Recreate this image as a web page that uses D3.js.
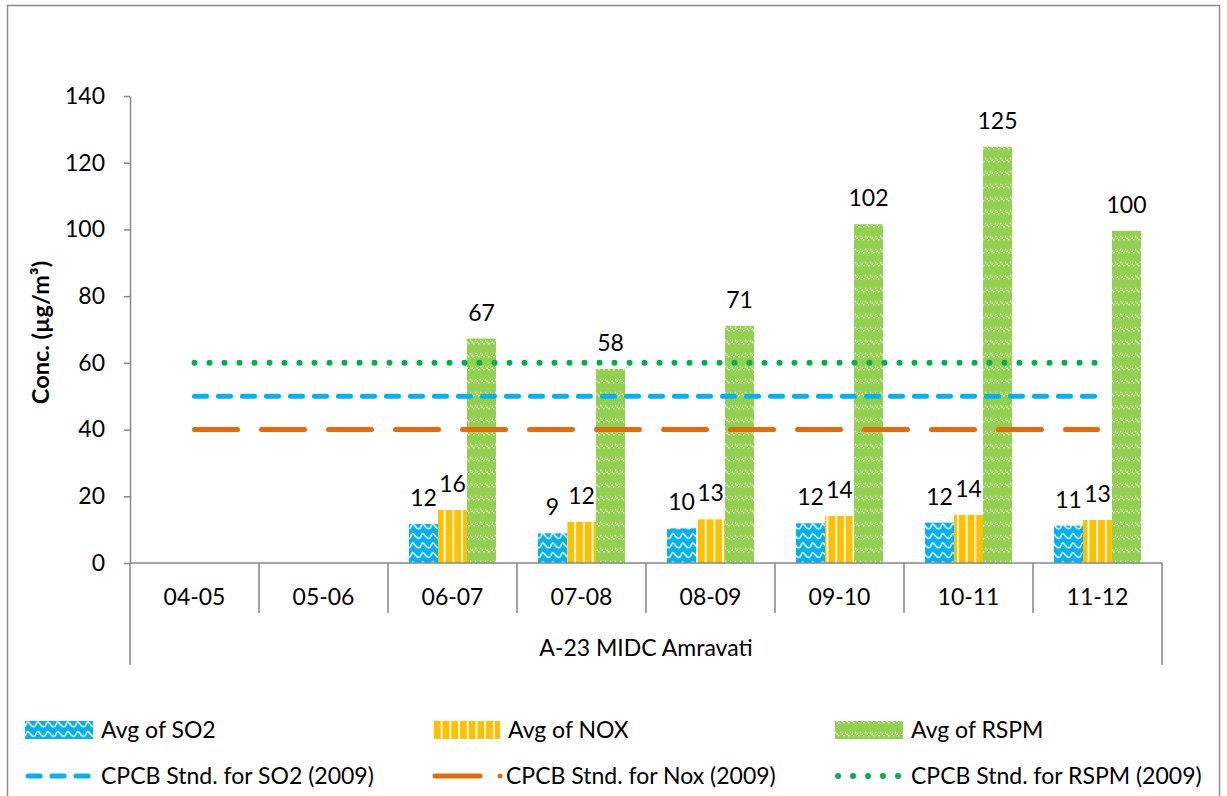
<!doctype html>
<html>
<head>
<style>
  body { margin: 0; background: #fff; }
  svg text { font-family: Lato, "Open Sans", sans-serif; fill: #000; }
</style>
<script src="https://cdn.jsdelivr.net/npm/d3@7"></script>
</head>
<body>
<svg width="1227" height="796"></svg>
<script>
var categories = ["04-05", "05-06", "06-07", "07-08", "08-09", "09-10", "10-11", "11-12"];
var groupLabel = "A-23 MIDC Amravati";
var so2  = [null, null, 11.7, 8.9, 10.4, 11.9, 12.1, 11.2];
var nox  = [null, null, 15.9, 12.3, 13.1, 14.1, 14.4, 12.9];
var rspm = [null, null, 67.3, 58.2, 71.1, 101.6, 124.8, 99.6];
var stdSO2 = [50, 50, 50, 50, 50, 50, 50, 50];
var stdNOX = [40, 40, 40, 40, 40, 40, 40, 40];
var stdRSPM = [60, 60, 60, 60, 60, 60, 60, 60];
var yTicks = [0, 20, 40, 60, 80, 100, 120, 140];

var barSeries = [
  { key: "so2", name: "Avg of SO2", values: so2, fill: "url(#pSO2)" },
  { key: "nox", name: "Avg of NOX", values: nox, fill: "url(#pNOX)" },
  { key: "rspm", name: "Avg of RSPM", values: rspm, fill: "url(#pRSPM)" }
];
var lineSeries = [
  { name: "CPCB Stnd. for SO2 (2009)", values: stdSO2, color: "#00B0F0", dash: "12 12", width: 5 },
  { name: "CPCB Stnd. for Nox (2009)", values: stdNOX, color: "#E36C0A", dash: "43 24", width: 5 },
  { name: "CPCB Stnd. for RSPM (2009)", values: stdRSPM, color: "#00B050", dash: "0 15", width: 6 }
];

var svg = d3.select("svg");
var plotLeft = 130, plotRight = 1162, plotTop = 96, plotBottom = 563;

// patterns
var defs = svg.append("defs");
var p1 = defs.append("pattern").attr("id", "pSO2").attr("patternUnits", "userSpaceOnUse")
  .attr("width", 10).attr("height", 9.5);
p1.append("rect").attr("width", 10).attr("height", 9.5).attr("fill", "#00B0F0");
p1.append("path").attr("d", "M0,6 C2.5,0.5 2.5,0.5 5,3.5 C7.5,6.5 7.5,6.5 10,6")
  .attr("fill", "none").attr("stroke", "#fff").attr("stroke-width", 1.5);

var p2 = defs.append("pattern").attr("id", "pNOX").attr("patternUnits", "userSpaceOnUse")
  .attr("width", 8.7).attr("height", 10);
p2.append("rect").attr("width", 8.7).attr("height", 10).attr("fill", "#FFC000");
p2.append("rect").attr("x", 0).attr("width", 1.8).attr("height", 10).attr("fill", "#fff");

var p3 = defs.append("pattern").attr("id", "pRSPM").attr("patternUnits", "userSpaceOnUse")
  .attr("width", 5).attr("height", 13);
p3.append("rect").attr("width", 5).attr("height", 13).attr("fill", "#92D050");
p3.append("path").attr("d", "M0,2 L5,7")
  .attr("stroke", "#fff").attr("stroke-width", 1.3).attr("stroke-dasharray", "1.3 1.1");

// outer border
svg.append("rect").attr("x", 7.5).attr("y", 5.5).attr("width", 1212).attr("height", 820)
  .attr("fill", "none").attr("stroke", "#8c8c8c").attr("stroke-width", 1.5);

var x0 = d3.scaleBand().domain(categories).range([plotLeft, plotRight]).paddingInner(0).paddingOuter(0);
var x1 = d3.scaleBand().domain(barSeries.map(function (s) { return s.key; }))
  .range([0, x0.bandwidth()]).paddingInner(0).paddingOuter(0.724);
var y = d3.scaleLinear().domain([0, 140]).range([plotBottom, plotTop]);

// bars
barSeries.forEach(function (s) {
  var data = categories.map(function (c, i) { return { cat: c, v: s.values[i] }; })
    .filter(function (d) { return d.v != null; });
  svg.append("g").selectAll("rect").data(data).enter().append("rect")
    .attr("x", function (d) { return x0(d.cat) + x1(s.key); })
    .attr("y", function (d) { return y(d.v); })
    .attr("width", x1.bandwidth())
    .attr("height", function (d) { return y(0) - y(d.v); })
    .attr("fill", s.fill);
  svg.append("g").selectAll("text").data(data).enter().append("text")
    .attr("x", function (d) { return x0(d.cat) + x1(s.key) + x1.bandwidth() / 2; })
    .attr("y", function (d) { return y(d.v) - 18; })
    .attr("text-anchor", "middle")
    .style("font-size", "23px")
    .text(function (d) { return d3.format(".0f")(d.v); });
});

// standard lines
var line = d3.line()
  .x(function (d) { return x0(d.cat) + x0.bandwidth() / 2; })
  .y(function (d) { return y(d.v); });
lineSeries.forEach(function (s) {
  var data = categories.map(function (c, i) { return { cat: c, v: s.values[i] }; });
  svg.append("path").datum(data).attr("d", line)
    .attr("fill", "none").attr("stroke", s.color).attr("stroke-width", s.width)
    .attr("stroke-linecap", "round").attr("stroke-dasharray", s.dash);
});

// y axis
var yAxis = svg.append("g").attr("transform", "translate(" + plotLeft + ",0)")
  .call(d3.axisLeft(y).tickValues(yTicks).tickSize(6).tickSizeOuter(0).tickPadding(19));
yAxis.selectAll("path, line").attr("stroke", "#868686").attr("stroke-width", 1.5);
yAxis.selectAll("text").style("font-size", "23px").attr("fill", "#000");

// x axis
var xAxis = svg.append("g").attr("transform", "translate(0," + plotBottom + ")")
  .call(d3.axisBottom(x0).tickSize(0).tickPadding(26));
xAxis.select("path").remove();
xAxis.selectAll("text").style("font-size", "23px").attr("fill", "#000");
svg.append("line").attr("x1", plotLeft).attr("x2", plotRight).attr("y1", plotBottom).attr("y2", plotBottom)
  .attr("stroke", "#868686").attr("stroke-width", 1.5);
var edges = categories.map(function (c) { return x0(c); }).concat([plotRight]);
svg.append("g").selectAll("line").data(edges).enter().append("line")
  .attr("x1", function (d) { return d; }).attr("x2", function (d) { return d; })
  .attr("y1", plotBottom)
  .attr("y2", function (d, i) { return (i === 0 || i === edges.length - 1) ? 665 : 613; })
  .attr("stroke", "#868686").attr("stroke-width", 1.5);
svg.append("text").attr("x", (plotLeft + plotRight) / 2).attr("y", 656)
  .attr("text-anchor", "middle").style("font-size", "23px").text(groupLabel);

// y title
svg.append("text")
  .attr("transform", "translate(49," + ((plotTop + plotBottom) / 2 + 3) + ") rotate(-90)")
  .attr("text-anchor", "middle")
  .style("font-size", "23.5px").style("font-weight", "bold")
  .text("Conc. (\u00B5g/m\u00B3)");

// legend
var legX = [25, 432, 835];
var leg1 = svg.append("g").selectAll("g").data(barSeries).enter().append("g")
  .attr("transform", function (d, i) { return "translate(" + legX[i] + ",730)"; });
leg1.append("rect").attr("x", 0).attr("y", -9).attr("width", 68).attr("height", 18)
  .attr("fill", function (d) { return d.fill; });
leg1.append("text").attr("x", 76).attr("y", 8).style("font-size", "23px")
  .text(function (d) { return d.name; });

var leg2 = svg.append("g").selectAll("g").data(lineSeries).enter().append("g")
  .attr("transform", function (d, i) { return "translate(" + legX[i] + ",776)"; });
leg2.append("line").attr("x1", 3).attr("x2", function (d, i) { return i === 1 ? 48 : 66; })
  .attr("y1", 0).attr("y2", 0)
  .attr("stroke", function (d) { return d.color; })
  .attr("stroke-width", function (d) { return d.width; })
  .attr("stroke-linecap", "round")
  .attr("stroke-dasharray", function (d, i) { return i === 1 ? null : (i === 0 ? "12 12" : "0 15"); });
leg2.filter(function (d, i) { return i === 1; }).append("circle")
  .attr("cx", 68).attr("cy", 0).attr("r", 2.5).attr("fill", function (d) { return d.color; });
leg2.append("text").attr("x", function (d, i) { return i === 1 ? 74 : 76; }).attr("y", 8)
  .style("font-size", "23px")
  .text(function (d) { return d.name; });
</script>
</body>
</html>
